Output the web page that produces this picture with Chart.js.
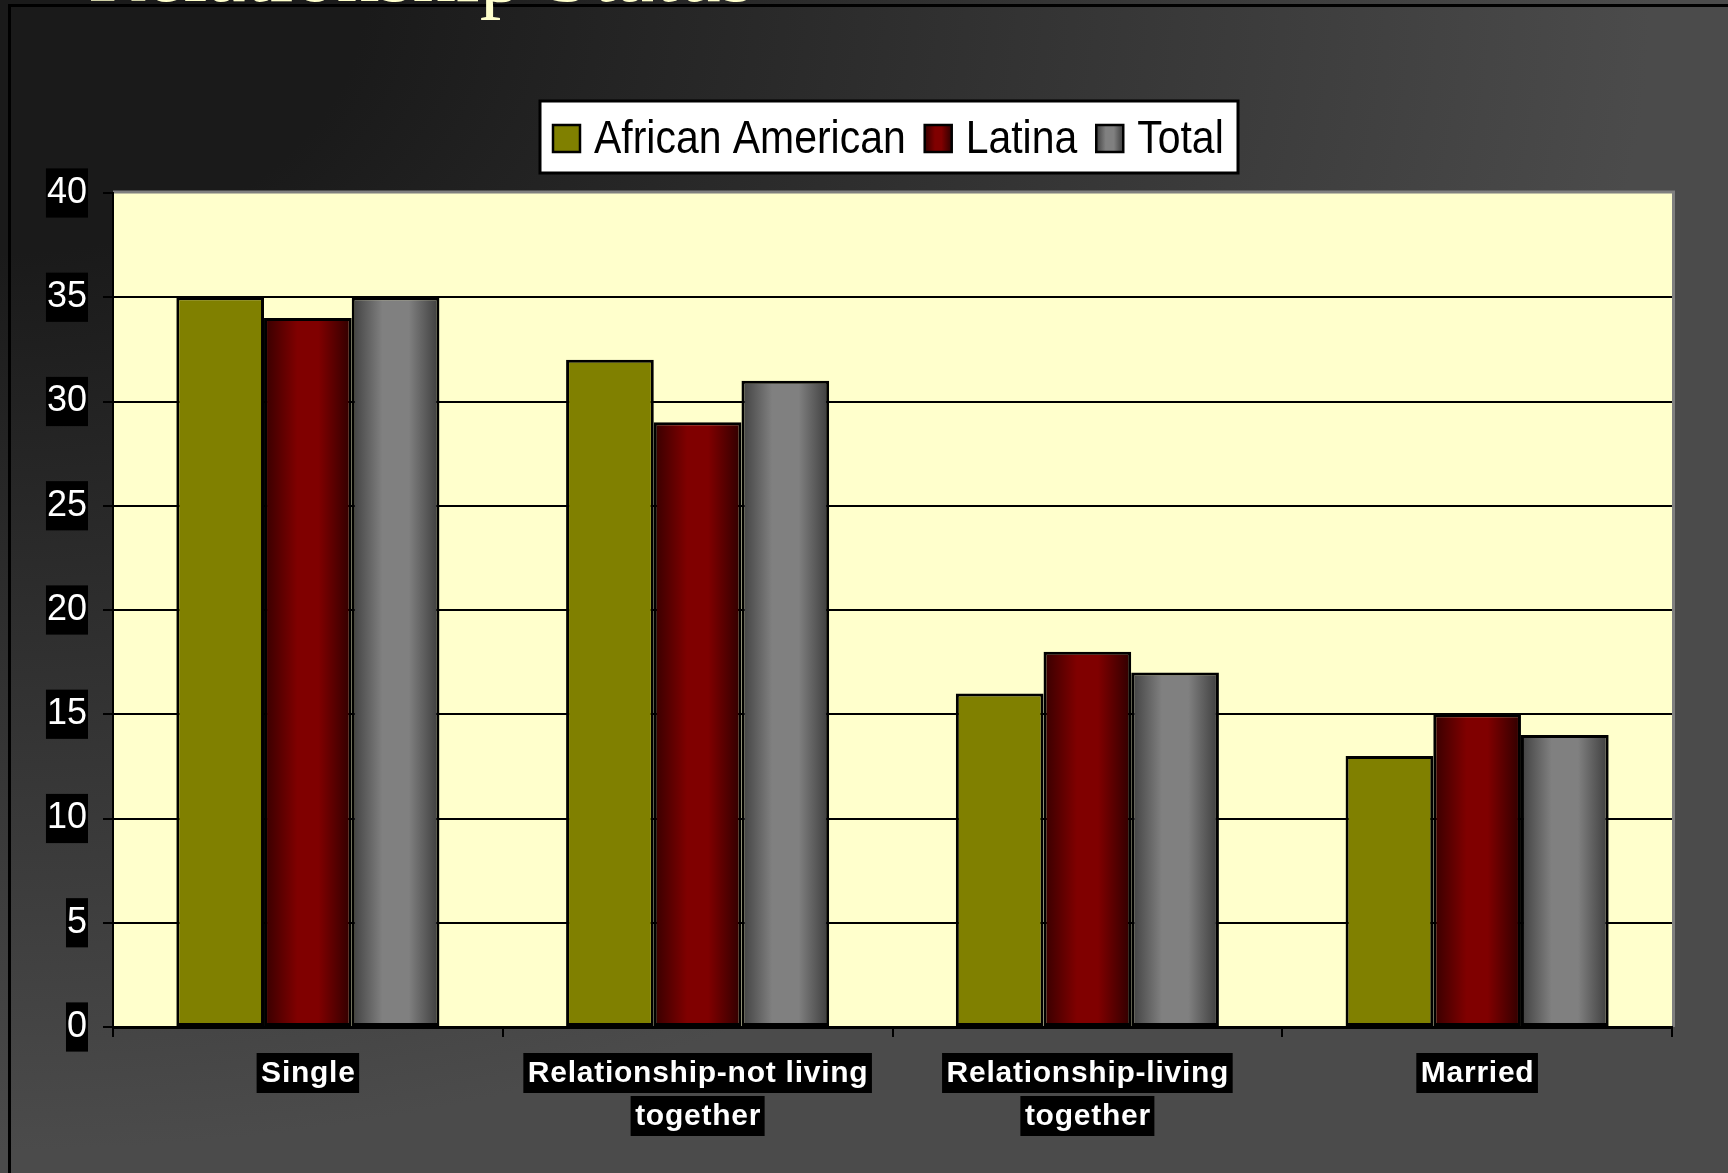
<!DOCTYPE html>
<html>
<head>
<meta charset="utf-8">
<script src="https://cdn.jsdelivr.net/npm/chart.js"></script>
<style>
  html, body { margin: 0; padding: 0; }
  body {
    width: 1728px; height: 1173px; overflow: hidden; position: relative;
    background: radial-gradient(ellipse 1650px 1150px at 0 0, #1a1a1a 22%, #4b4b4b 100%);
  }
  #frame { position: absolute; left: 8px; top: 4px; right: 0; bottom: 0; border-left: 3px solid #000; border-top: 3px solid #000; }
  #title { position: absolute; left: 88px; top: -71px; font: 86px/1 "Liberation Serif", serif; color: #ffffcc; white-space: nowrap; }
  #wrap { position: absolute; left: 0; top: 0; width: 1728px; height: 1173px; }
</style>
</head>
<body>
<div id="frame"></div>
<div id="title">Relationship Status</div>
<div id="wrap"><canvas id="statusChart" width="1728" height="1173"></canvas></div>
<script>
// data
const categories = [['Single'], ['Relationship-not living', 'together'], ['Relationship-living', 'together'], ['Married']];
const seriesNames = ['African American', 'Latina', 'Total'];
const africanAmerican = [35, 32, 16, 13];
const latina = [34, 29, 18, 15];
const total = [35, 31, 17, 14];
const yMin = 0, yMax = 40, yStep = 5;

const CAT_PCT = 0.675;
const oliveStops = [[0, '#808000'], [1, '#808000']];
const maroonStops = [[0, '#360000'], [0.38, '#800000'], [0.62, '#800000'], [1, '#2e0000']];
const greyStops = [[0, '#404040'], [0.35, '#808080'], [0.65, '#808080'], [1, '#3c3c3c']];

function makeGradient(ctx, left, right, stops) {
    const g = ctx.createLinearGradient(left, 0, right, 0);
    stops.forEach(s => g.addColorStop(s[0], s[1]));
    return g;
}

// gradient per bar, position taken from the category scale
function barFill(stops, flat) {
    return c => {
        if (c.type !== 'data') return flat;
        const xs = c.chart.scales.x;
        if (!xs || !xs.width) return flat;
        const bw = xs.width / categories.length * CAT_PCT / 3;
        const cx = xs.getPixelForValue(c.dataIndex) + (c.datasetIndex - 1) * bw;
        return makeGradient(c.chart.ctx, cx - bw / 2, cx + bw / 2, stops);
    };
}

const plotBg = {
    id: 'plotBg',
    beforeDraw(chart) {
        const { ctx, chartArea: a } = chart;
        ctx.save();
        ctx.fillStyle = '#ffffcc';
        ctx.fillRect(a.left, a.top, a.right - a.left, a.bottom - a.top);
        ctx.strokeStyle = '#7f7f7f';
        ctx.lineWidth = 3;
        ctx.beginPath();
        ctx.moveTo(a.left, a.top - 1);
        ctx.lineTo(a.right + 1.5, a.top - 1);
        ctx.lineTo(a.right + 1.5, a.bottom);
        ctx.stroke();
        ctx.restore();
    }
};

const labelsAndLegend = {
    id: 'labelsAndLegend',
    afterDraw(chart) {
        const ctx = chart.ctx;
        const xs = chart.scales.x;
        ctx.save();
        // x category labels, one black box per line
        ctx.font = 'bold 30px "Liberation Sans", Arial, sans-serif';
        ctx.letterSpacing = '0.75px';
        ctx.textAlign = 'center';
        ctx.textBaseline = 'middle';
        categories.forEach((lines, i) => {
            const cx = xs.getPixelForValue(i);
            lines.forEach((line, j) => {
                const w = ctx.measureText(line).width + 8;
                const cy = xs.top + 46 + j * 43;
                ctx.fillStyle = '#000';
                ctx.fillRect(cx - w / 2, cy - 20, w, 40);
                ctx.fillStyle = '#fff';
                ctx.fillText(line, cx + 0.5, cy + 1);
            });
        });
        ctx.letterSpacing = '0px';

        // legend box
        const box = { left: 540, top: 101, right: 1238, bottom: 173 };
        ctx.fillStyle = '#fff';
        ctx.fillRect(box.left, box.top, box.right - box.left, box.bottom - box.top);
        ctx.strokeStyle = '#000';
        ctx.lineWidth = 3;
        ctx.strokeRect(box.left, box.top, box.right - box.left, box.bottom - box.top);

        const sx = 0.89;
        ctx.font = '46px "Liberation Sans", Arial, sans-serif';
        ctx.textAlign = 'left';
        const legendStops = [oliveStops, maroonStops, greyStops];
        let x = 553;
        const cy = 138;
        chart.data.datasets.forEach((ds, i) => {
            ctx.fillStyle = makeGradient(ctx, x, x + 27, legendStops[i]);
            ctx.fillRect(x, cy - 13, 27, 27);
            ctx.lineWidth = 2.5;
            ctx.strokeStyle = '#000';
            ctx.strokeRect(x, cy - 13, 27, 27);
            const tx = x + 27 + 14;
            ctx.save();
            ctx.translate(tx, cy + 2);
            ctx.scale(sx, 1);
            ctx.fillStyle = '#000';
            ctx.fillText(ds.label, 0, 0);
            ctx.restore();
            x = tx + ctx.measureText(ds.label).width * sx + 19;
        });
        ctx.restore();
    }
};

new Chart(document.getElementById('statusChart'), {
    type: 'bar',
    data: {
        labels: categories,
        datasets: [
            { label: seriesNames[0], data: africanAmerican, backgroundColor: '#808000' },
            { label: seriesNames[1], data: latina, backgroundColor: barFill(maroonStops, '#800000') },
            { label: seriesNames[2], data: total, backgroundColor: barFill(greyStops, '#808080') }
        ].map(d => Object.assign(d, {
            borderColor: '#000', borderWidth: 3, borderSkipped: false,
            categoryPercentage: CAT_PCT, barPercentage: 1
        }))
    },
    options: {
        responsive: false,
        animation: false,
        devicePixelRatio: 1,
        layout: { padding: { top: 193, right: 56, bottom: 0, left: 0 } },
        plugins: { legend: { display: false }, tooltip: { enabled: false } },
        scales: {
            x: {
                afterFit: s => { s.height = 146; },
                ticks: { display: false },
                grid: { drawOnChartArea: false, offset: true, color: '#000', lineWidth: 2, tickLength: 10 },
                border: { color: '#000', width: 3 }
            },
            y: {
                min: yMin, max: yMax,
                afterFit: s => { s.width = 113; },
                ticks: {
                    stepSize: yStep, color: '#fff', padding: 16,
                    font: { family: '"Liberation Sans", Arial, sans-serif', size: 36 },
                    showLabelBackdrop: true, backdropColor: '#000', backdropPadding: { x: 1, y: 3 }
                },
                grid: {
                    color: c => c.tick && c.tick.value === yMax ? 'rgba(0,0,0,0)' : '#000',
                    tickColor: '#000', lineWidth: 2, tickLength: 10
                },
                border: { color: '#000', width: 2 }
            }
        }
    },
    plugins: [plotBg, labelsAndLegend]
});
</script>
</body>
</html>
